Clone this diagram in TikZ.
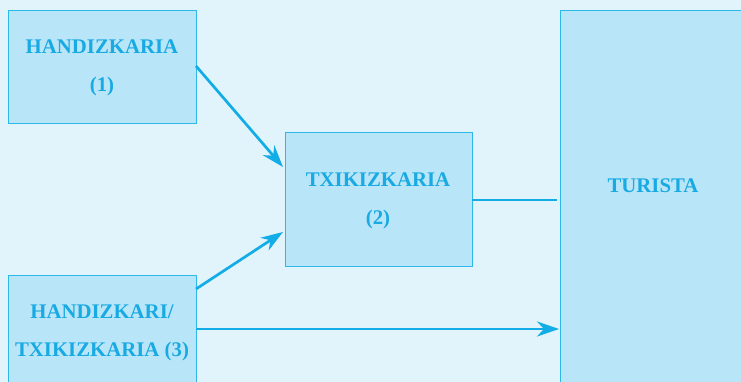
\documentclass[tikz,border=0pt]{standalone}
\usepackage{fontspec}
\setmainfont{Liberation Serif}
\usetikzlibrary{arrows.meta}
\definecolor{bgc}{HTML}{E1F3FB}
\definecolor{boxfill}{HTML}{B9E5F8}
\definecolor{boxline}{HTML}{2DB8EA}
\definecolor{txt}{HTML}{18AAE2}
\definecolor{conn}{HTML}{12ACE6}
\begin{document}
\begin{tikzpicture}[x=1pt,y=-1pt,
  box/.style={draw=boxline,fill=boxfill,line width=1.4pt,inner sep=0pt,anchor=north west},
  lbl/.style={text=txt,font=\bfseries\fontsize{20.8}{38}\selectfont,align=center},
  conline/.style={draw=conn,line width=2.7pt},
  arr/.style={conline,-{Stealth[length=22pt,width=15pt,inset=7pt]}}]
\useasboundingbox (0,0) rectangle (741,382);
\clip (0,0) rectangle (741,382);
\fill[bgc] (0,0) rectangle (741,382);
\node[box,minimum width=188pt,minimum height=113pt] (b1) at (8,10) {};
\node[box,minimum width=187pt,minimum height=134pt] (b2) at (285,132) {};
\node[box,minimum width=188pt,minimum height=130pt] (b3) at (8,275) {};
\node[box,minimum width=200pt,minimum height=400pt] (t) at (560,10) {};
\node[lbl] (l1) at (102,68) {HANDIZKARIA\\(1)};
\node[lbl] (l2) at (378,201) {TXIKIZKARIA\\(2)};
\node[lbl] (l3) at (102,333) {HANDIZKARI/\\TXIKIZKARIA (3)};
\node[lbl] (l4) at (653,186) {TURISTA};
\coordinate (a1s) at (196,66);
\coordinate (a1e) at (283,167);
\coordinate (a2s) at (196,289);
\coordinate (a2e) at (283,232);
\coordinate (c1s) at (472,200);
\coordinate (c1e) at (557,200);
\coordinate (a3s) at (196,329);
\coordinate (a3e) at (559,329);
\draw[arr] (a1s) -- (a1e);
\draw[arr] (a2s) -- (a2e);
\draw[conline] (c1s) -- (c1e);
\draw[arr] (a3s) -- (a3e);
\end{tikzpicture}
\end{document}
